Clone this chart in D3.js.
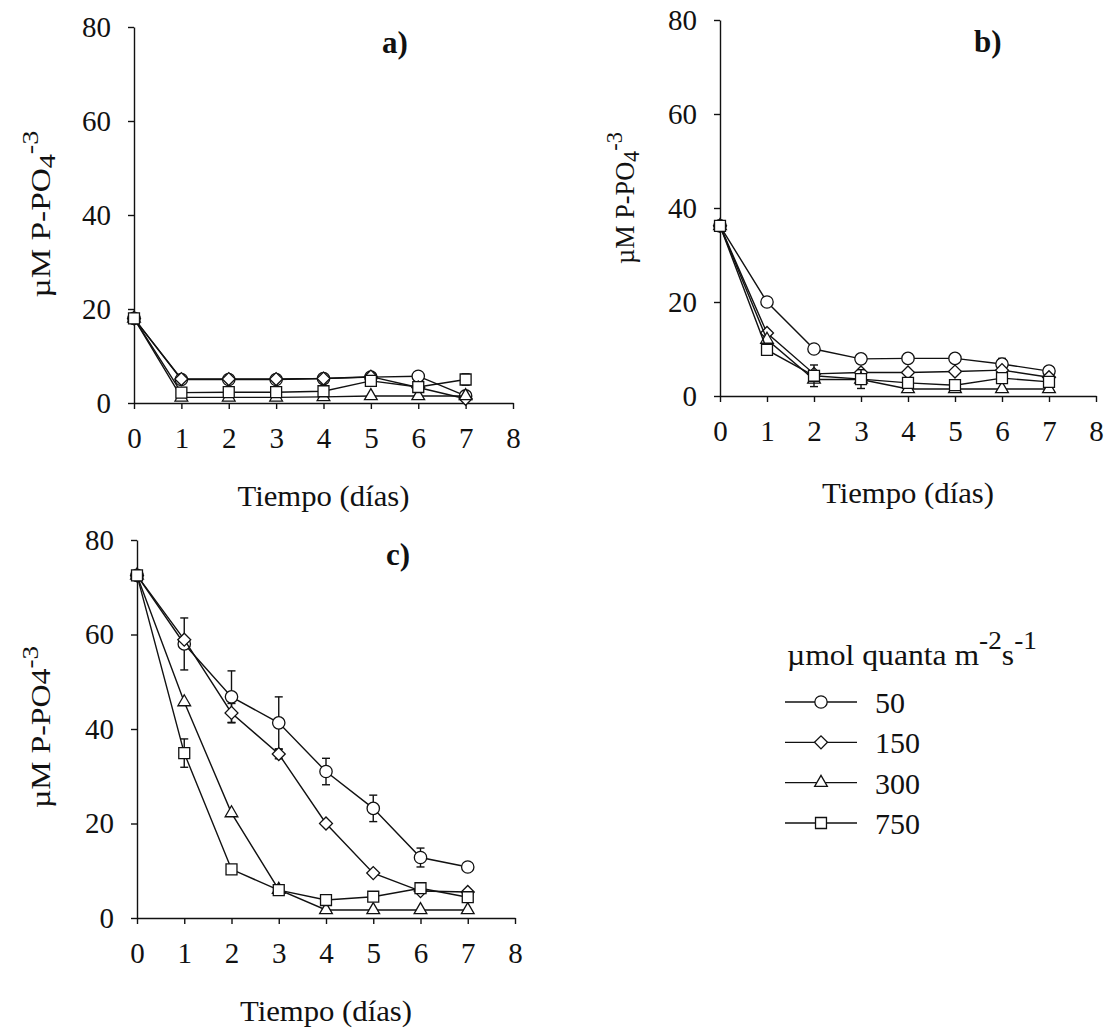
<!DOCTYPE html>
<html>
<head>
<meta charset="utf-8">
<script src="https://cdn.jsdelivr.net/npm/d3@7"></script>
<style>
  body { margin: 0; background: #fff; }
  svg { display: block; }
</style>
</head>
<body>
<script>
// days sampled and axis ticks
var days = [0, 1, 2, 3, 4, 5, 6, 7];
var xTicks = [0, 1, 2, 3, 4, 5, 6, 7, 8];
var yTicks = [0, 20, 40, 60, 80];
var lightLevels = ["50", "150", "300", "750"];

// panel a) values (uM P-PO4) per light level
var a50  = [18, 5.0, 5.0, 5.0, 5.2, 5.5, 5.7, 1.5];
var a150 = [18, 5.1, 5.1, 5.1, 5.2, 5.6, 3.3, 0.9];
var a300 = [18, 1.2, 1.2, 1.2, 1.3, 1.5, 1.5, 1.5];
var a750 = [18, 2.2, 2.3, 2.3, 2.5, 4.7, 3.4, 5.0];
var a750err = [0, 0, 0, 0, 0, 1.0, 0, 1.2];

// panel b)
var b50  = [36.2, 20, 10, 7.9, 8, 8, 6.8, 5.3];
var b150 = [36.2, 13.4, 4.7, 5, 5, 5.2, 5.5, 4];
var b300 = [36.2, 12, 3.5, 3.5, 1.5, 1.5, 1.5, 1.5];
var b750 = [36.2, 9.8, 4.3, 3.6, 2.8, 2.3, 3.8, 3];
var b50err  = [0, 0, 0, 0, 0, 0, 1.2, 0];
var b750err = [0, 0, 2.3, 2, 0, 0, 0, 0];

// panel c)
var c50  = [72.5, 58, 46.8, 41.3, 31, 23.2, 12.8, 10.8];
var c150 = [72.5, 58.9, 43.4, 34.7, 20, 9.5, 5.7, 5.5];
var c300 = [72.5, 45.7, 22.2, 6, 1.7, 1.7, 1.7, 1.7];
var c750 = [72.5, 34.9, 10.3, 5.9, 3.8, 4.5, 6.3, 4.4];
var c50err  = [0, 5.5, 5.5, 5.5, 2.8, 2.8, 2, 0];
var c150err = [0, 0, 2, 1, 0, 0, 0, 0];
var c750err = [0, 3, 0, 0, 0, 0, 0, 0];

var zeros = [0, 0, 0, 0, 0, 0, 0, 0];
var font = "'Liberation Serif', 'Times New Roman', serif";

var svg = d3.select("body").append("svg")
    .attr("width", 1108).attr("height", 1032)
    .style("font-family", font);
svg.append("rect").attr("width", 1108).attr("height", 1032).attr("fill", "#fff");

// marker shapes: circle, diamond, triangle, square
var shapes = [
  d3.symbol().type(d3.symbolCircle).size(120),
  d3.symbol().type(d3.symbolSquare).size(84),   // rotated 45 -> diamond
  d3.symbol().type(d3.symbolTriangle).size(70),
  d3.symbol().type(d3.symbolSquare).size(120)
];
var rot = [0, 45, 0, 0];

// stretch a text element horizontally to a target width
function fitWidth(t, target) {
  var w = t.node().getBBox().width;
  t.attr("transform", "scale(" + (target / w) + ",1)");
}

var panels = [
  {name: "a)", left: 134, right: 513, bottom: 403, top: 27,
   series: [a50, a150, a300, a750], errs: [zeros, zeros, zeros, a750err],
   lab: [382, 53], ylab: [50, 214, 167], sub: true, titleY: 506},
  {name: "b)", left: 720, right: 1096, bottom: 396, top: 20,
   series: [b50, b150, b300, b750], errs: [b50err, zeros, zeros, b750err],
   lab: [974, 52], ylab: [634, 198, 132], sub: true, titleY: 503},
  {name: "c)", left: 137, right: 515, bottom: 918, top: 540,
   series: [c50, c150, c300, c750], errs: [c50err, c150err, zeros, c750err],
   lab: [386, 565], ylab: [50, 727, 162], sub: false, titleY: 1021}
];

panels.forEach(function(p) {
  var x = d3.scaleLinear().domain([0, 8]).range([p.left, p.right]);
  var y = d3.scaleLinear().domain([0, 80]).range([p.bottom, p.top]);
  var g = svg.append("g");

  var xAxis = g.append("g")
      .attr("transform", "translate(0," + p.bottom + ")")
      .call(d3.axisBottom(x).tickValues(xTicks).tickSizeInner(6).tickSizeOuter(0).tickPadding(18));
  var yAxis = g.append("g")
      .attr("transform", "translate(" + p.left + ",0)")
      .call(d3.axisLeft(y).tickValues(yTicks).tickSizeInner(6).tickSizeOuter(0).tickPadding(17));
  [xAxis, yAxis].forEach(function(ax) {
    ax.selectAll("path, line").attr("stroke", "#111").attr("stroke-width", 1.4);
    ax.selectAll("text").attr("fill", "#111").style("font-family", font).style("font-size", "29px");
  });

  var line = d3.line().x(function(d, i) { return x(days[i]); }).y(function(d) { return y(d); });

  p.series.forEach(function(vals, s) {
    var sg = g.append("g");
    sg.append("path").attr("d", line(vals))
      .attr("fill", "none").attr("stroke", "#111").attr("stroke-width", 1.4);

    // error bars
    vals.forEach(function(v, i) {
      var e = p.errs[s][i];
      if (!e) return;
      var cx = x(days[i]);
      sg.append("line").attr("x1", cx).attr("x2", cx).attr("y1", y(v - e)).attr("y2", y(v + e))
        .attr("stroke", "#111").attr("stroke-width", 1.4);
      [v - e, v + e].forEach(function(t) {
        sg.append("line").attr("x1", cx - 4).attr("x2", cx + 4).attr("y1", y(t)).attr("y2", y(t))
          .attr("stroke", "#111").attr("stroke-width", 1.4);
      });
    });

    sg.selectAll("path.m").data(vals).enter().append("path")
      .attr("class", "m")
      .attr("d", shapes[s]())
      .attr("transform", function(d, i) {
        return "translate(" + x(days[i]) + "," + y(d) + ") rotate(" + rot[s] + ")";
      })
      .attr("fill", "#fff").attr("stroke", "#111").attr("stroke-width", 1.3);
  });

  // panel letter
  g.append("text").attr("x", p.lab[0]).attr("y", p.lab[1])
    .attr("font-weight", "bold").attr("font-size", 31).attr("fill", "#111").text(p.name);

  // x title
  g.append("text").attr("x", (p.left + p.right) / 2).attr("y", p.titleY)
    .attr("text-anchor", "middle").attr("font-size", 30).attr("fill", "#111")
    .attr("textLength", 172).attr("lengthAdjust", "spacingAndGlyphs")
    .text("Tiempo (días)");

  // y title
  var yg = g.append("g").attr("transform", "translate(" + p.ylab[0] + "," + p.ylab[1] + ") rotate(-90)");
  var yt = yg.append("text").attr("text-anchor", "middle").attr("font-size", 27).attr("fill", "#111");
  yt.append("tspan").text("µM P-PO");
  if (p.sub) {
    yt.append("tspan").attr("dy", 5).attr("font-size", 23).text("4");
    yt.append("tspan").attr("dy", -17).attr("font-size", 23).text("-3");
  } else {
    yt.append("tspan").text("4");
    yt.append("tspan").attr("dy", -12).attr("font-size", 23).text("-3");
  }
  fitWidth(yt, p.ylab[2]);
});

// legend
var leg = svg.append("g");
var lg = leg.append("g").attr("transform", "translate(787,665)");
var lt = lg.append("text").attr("font-size", 29).attr("fill", "#111");
lt.append("tspan").text("µmol quanta m");
lt.append("tspan").attr("dy", -16).attr("font-size", 25).text("-2");
lt.append("tspan").attr("dy", 16).text("s");
lt.append("tspan").attr("dy", -16).attr("font-size", 25).text("-1");
fitWidth(lt, 250);

var legY = d3.scalePoint().domain(lightLevels).range([702, 823]);
lightLevels.forEach(function(k, s) {
  var yy = legY(k);
  leg.append("line").attr("x1", 785).attr("x2", 857).attr("y1", yy).attr("y2", yy)
    .attr("stroke", "#111").attr("stroke-width", 1.4);
  leg.append("path").attr("d", shapes[s]())
    .attr("transform", "translate(821," + yy + ") rotate(" + rot[s] + ")")
    .attr("fill", "#fff").attr("stroke", "#111").attr("stroke-width", 1.3);
  leg.append("text").attr("x", 875).attr("y", yy + 11).attr("font-size", 30).attr("fill", "#111").text(k);
});
</script>
</body>
</html>
